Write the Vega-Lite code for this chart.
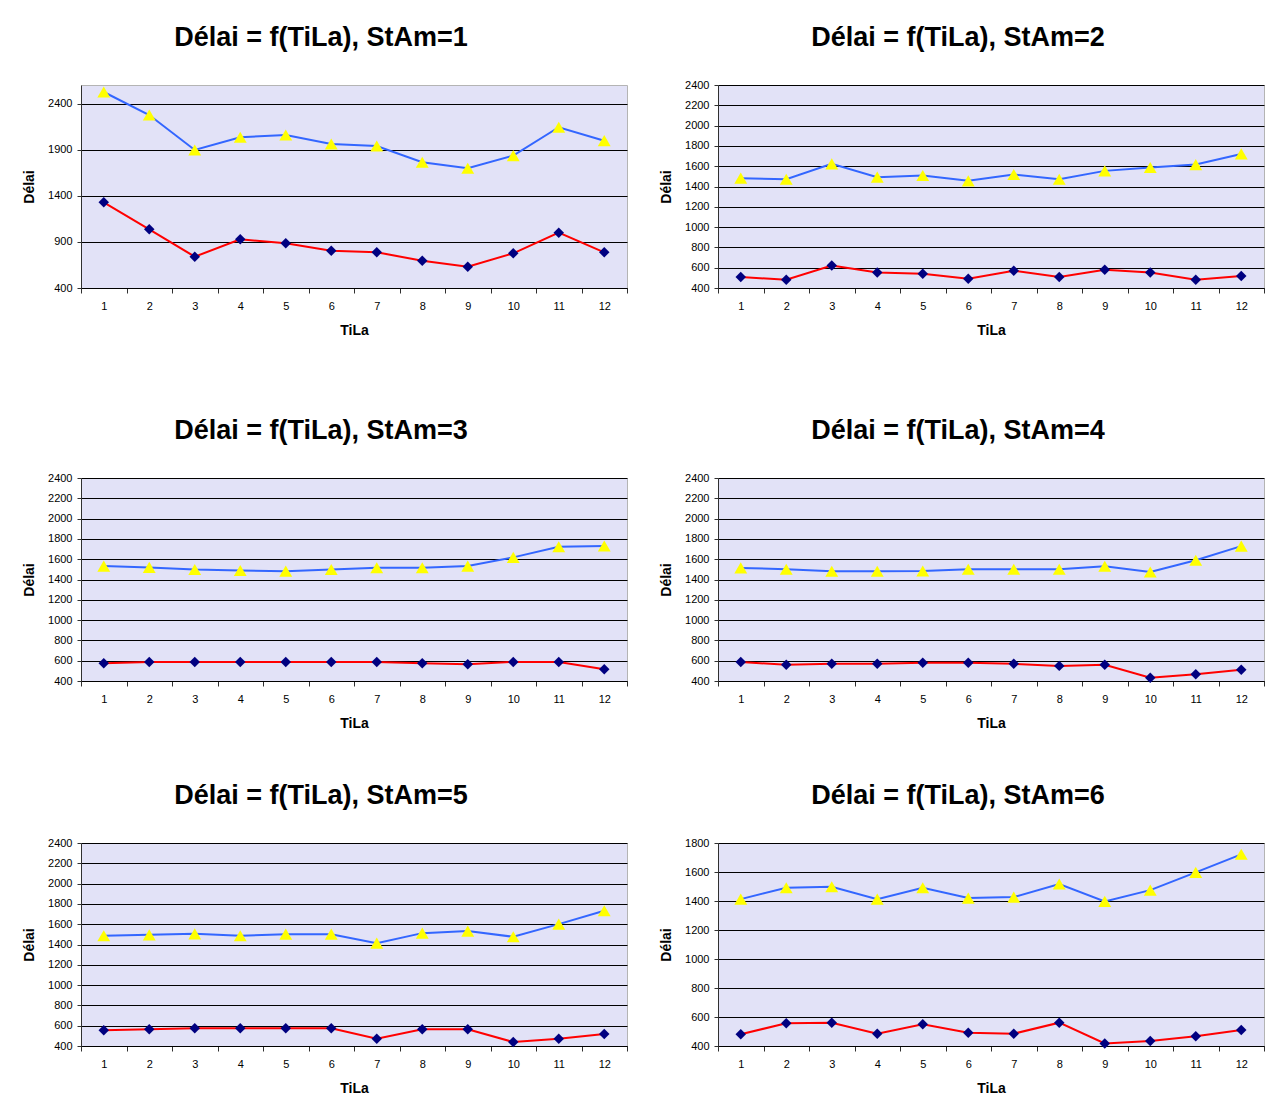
{
  "$schema": "https://vega.github.io/schema/vega-lite/v6.json",
  "padding": {"left": 22, "top": 23, "right": 0, "bottom": 0},
  "background": "white",
  "config": {
    "font": "Liberation Sans",
    "view": {"fill": "#e2e2f7", "stroke": "#b4b4b4", "strokeWidth": 1},
    "title": {"fontSize": 27, "font": "Liberation Sans", "fontWeight": "bold", "anchor": "middle", "color": "#000000", "offset": 27, "dx": -33},
    "axis": {
      "labelFont": "Liberation Sans", "labelFontSize": 11, "labelColor": "#000000",
      "titleFont": "Liberation Sans", "titleFontSize": 14, "titleFontWeight": "bold", "titleColor": "#000000",
      "domainColor": "#303030", "tickColor": "#303030", "gridColor": "#000000", "gridOpacity": 1, "gridWidth": 1,
      "labelFlush": false, "labelOverlap": false, "labelBound": false
    },
    "concat": {"spacing": 31}
  },
  "datasets": {
    "d": [
      {"StAm":1,"TiLa":1,"serie":"haut","delai":2530},{"StAm":1,"TiLa":2,"serie":"haut","delai":2280},{"StAm":1,"TiLa":3,"serie":"haut","delai":1900},{"StAm":1,"TiLa":4,"serie":"haut","delai":2038},{"StAm":1,"TiLa":5,"serie":"haut","delai":2063},{"StAm":1,"TiLa":6,"serie":"haut","delai":1965},{"StAm":1,"TiLa":7,"serie":"haut","delai":1943},{"StAm":1,"TiLa":8,"serie":"haut","delai":1766},{"StAm":1,"TiLa":9,"serie":"haut","delai":1701},{"StAm":1,"TiLa":10,"serie":"haut","delai":1838},{"StAm":1,"TiLa":11,"serie":"haut","delai":2147},{"StAm":1,"TiLa":12,"serie":"haut","delai":2001},
      {"StAm":1,"TiLa":1,"serie":"bas","delai":1331},{"StAm":1,"TiLa":2,"serie":"bas","delai":1038},{"StAm":1,"TiLa":3,"serie":"bas","delai":740},{"StAm":1,"TiLa":4,"serie":"bas","delai":929},{"StAm":1,"TiLa":5,"serie":"bas","delai":886},{"StAm":1,"TiLa":6,"serie":"bas","delai":806},{"StAm":1,"TiLa":7,"serie":"bas","delai":788},{"StAm":1,"TiLa":8,"serie":"bas","delai":697},{"StAm":1,"TiLa":9,"serie":"bas","delai":632},{"StAm":1,"TiLa":10,"serie":"bas","delai":777},{"StAm":1,"TiLa":11,"serie":"bas","delai":1001},{"StAm":1,"TiLa":12,"serie":"bas","delai":788},
      {"StAm":2,"TiLa":1,"serie":"haut","delai":1482},{"StAm":2,"TiLa":2,"serie":"haut","delai":1472},{"StAm":2,"TiLa":3,"serie":"haut","delai":1623},{"StAm":2,"TiLa":4,"serie":"haut","delai":1492},{"StAm":2,"TiLa":5,"serie":"haut","delai":1508},{"StAm":2,"TiLa":6,"serie":"haut","delai":1456},{"StAm":2,"TiLa":7,"serie":"haut","delai":1518},{"StAm":2,"TiLa":8,"serie":"haut","delai":1472},{"StAm":2,"TiLa":9,"serie":"haut","delai":1554},{"StAm":2,"TiLa":10,"serie":"haut","delai":1587},{"StAm":2,"TiLa":11,"serie":"haut","delai":1616},{"StAm":2,"TiLa":12,"serie":"haut","delai":1721},
      {"StAm":2,"TiLa":1,"serie":"bas","delai":508},{"StAm":2,"TiLa":2,"serie":"bas","delai":482},{"StAm":2,"TiLa":3,"serie":"bas","delai":622},{"StAm":2,"TiLa":4,"serie":"bas","delai":553},{"StAm":2,"TiLa":5,"serie":"bas","delai":541},{"StAm":2,"TiLa":6,"serie":"bas","delai":491},{"StAm":2,"TiLa":7,"serie":"bas","delai":570},{"StAm":2,"TiLa":8,"serie":"bas","delai":508},{"StAm":2,"TiLa":9,"serie":"bas","delai":580},{"StAm":2,"TiLa":10,"serie":"bas","delai":553},{"StAm":2,"TiLa":11,"serie":"bas","delai":482},{"StAm":2,"TiLa":12,"serie":"bas","delai":518},
      {"StAm":3,"TiLa":1,"serie":"haut","delai":1532},{"StAm":3,"TiLa":2,"serie":"haut","delai":1519},{"StAm":3,"TiLa":3,"serie":"haut","delai":1499},{"StAm":3,"TiLa":4,"serie":"haut","delai":1489},{"StAm":3,"TiLa":5,"serie":"haut","delai":1482},{"StAm":3,"TiLa":6,"serie":"haut","delai":1499},{"StAm":3,"TiLa":7,"serie":"haut","delai":1516},{"StAm":3,"TiLa":8,"serie":"haut","delai":1516},{"StAm":3,"TiLa":9,"serie":"haut","delai":1532},{"StAm":3,"TiLa":10,"serie":"haut","delai":1618},{"StAm":3,"TiLa":11,"serie":"haut","delai":1723},{"StAm":3,"TiLa":12,"serie":"haut","delai":1730},
      {"StAm":3,"TiLa":1,"serie":"bas","delai":575},{"StAm":3,"TiLa":2,"serie":"bas","delai":588},{"StAm":3,"TiLa":3,"serie":"bas","delai":588},{"StAm":3,"TiLa":4,"serie":"bas","delai":588},{"StAm":3,"TiLa":5,"serie":"bas","delai":588},{"StAm":3,"TiLa":6,"serie":"bas","delai":588},{"StAm":3,"TiLa":7,"serie":"bas","delai":588},{"StAm":3,"TiLa":8,"serie":"bas","delai":575},{"StAm":3,"TiLa":9,"serie":"bas","delai":565},{"StAm":3,"TiLa":10,"serie":"bas","delai":588},{"StAm":3,"TiLa":11,"serie":"bas","delai":588},{"StAm":3,"TiLa":12,"serie":"bas","delai":516},
      {"StAm":4,"TiLa":1,"serie":"haut","delai":1514},{"StAm":4,"TiLa":2,"serie":"haut","delai":1501},{"StAm":4,"TiLa":3,"serie":"haut","delai":1481},{"StAm":4,"TiLa":4,"serie":"haut","delai":1481},{"StAm":4,"TiLa":5,"serie":"haut","delai":1484},{"StAm":4,"TiLa":6,"serie":"haut","delai":1501},{"StAm":4,"TiLa":7,"serie":"haut","delai":1501},{"StAm":4,"TiLa":8,"serie":"haut","delai":1501},{"StAm":4,"TiLa":9,"serie":"haut","delai":1531},{"StAm":4,"TiLa":10,"serie":"haut","delai":1474},{"StAm":4,"TiLa":11,"serie":"haut","delai":1590},{"StAm":4,"TiLa":12,"serie":"haut","delai":1729},
      {"StAm":4,"TiLa":1,"serie":"bas","delai":588},{"StAm":4,"TiLa":2,"serie":"bas","delai":559},{"StAm":4,"TiLa":3,"serie":"bas","delai":569},{"StAm":4,"TiLa":4,"serie":"bas","delai":569},{"StAm":4,"TiLa":5,"serie":"bas","delai":579},{"StAm":4,"TiLa":6,"serie":"bas","delai":579},{"StAm":4,"TiLa":7,"serie":"bas","delai":569},{"StAm":4,"TiLa":8,"serie":"bas","delai":549},{"StAm":4,"TiLa":9,"serie":"bas","delai":559},{"StAm":4,"TiLa":10,"serie":"bas","delai":433},{"StAm":4,"TiLa":11,"serie":"bas","delai":466},{"StAm":4,"TiLa":12,"serie":"bas","delai":512},
      {"StAm":5,"TiLa":1,"serie":"haut","delai":1486},{"StAm":5,"TiLa":2,"serie":"haut","delai":1495},{"StAm":5,"TiLa":3,"serie":"haut","delai":1505},{"StAm":5,"TiLa":4,"serie":"haut","delai":1486},{"StAm":5,"TiLa":5,"serie":"haut","delai":1502},{"StAm":5,"TiLa":6,"serie":"haut","delai":1502},{"StAm":5,"TiLa":7,"serie":"haut","delai":1413},{"StAm":5,"TiLa":8,"serie":"haut","delai":1512},{"StAm":5,"TiLa":9,"serie":"haut","delai":1532},{"StAm":5,"TiLa":10,"serie":"haut","delai":1476},{"StAm":5,"TiLa":11,"serie":"haut","delai":1601},{"StAm":5,"TiLa":12,"serie":"haut","delai":1732},
      {"StAm":5,"TiLa":1,"serie":"bas","delai":555},{"StAm":5,"TiLa":2,"serie":"bas","delai":564},{"StAm":5,"TiLa":3,"serie":"bas","delai":574},{"StAm":5,"TiLa":4,"serie":"bas","delai":574},{"StAm":5,"TiLa":5,"serie":"bas","delai":574},{"StAm":5,"TiLa":6,"serie":"bas","delai":574},{"StAm":5,"TiLa":7,"serie":"bas","delai":472},{"StAm":5,"TiLa":8,"serie":"bas","delai":564},{"StAm":5,"TiLa":9,"serie":"bas","delai":564},{"StAm":5,"TiLa":10,"serie":"bas","delai":439},{"StAm":5,"TiLa":11,"serie":"bas","delai":472},{"StAm":5,"TiLa":12,"serie":"bas","delai":518},
      {"StAm":6,"TiLa":1,"serie":"haut","delai":1413},{"StAm":6,"TiLa":2,"serie":"haut","delai":1491},{"StAm":6,"TiLa":3,"serie":"haut","delai":1498},{"StAm":6,"TiLa":4,"serie":"haut","delai":1413},{"StAm":6,"TiLa":5,"serie":"haut","delai":1491},{"StAm":6,"TiLa":6,"serie":"haut","delai":1420},{"StAm":6,"TiLa":7,"serie":"haut","delai":1427},{"StAm":6,"TiLa":8,"serie":"haut","delai":1517},{"StAm":6,"TiLa":9,"serie":"haut","delai":1397},{"StAm":6,"TiLa":10,"serie":"haut","delai":1475},{"StAm":6,"TiLa":11,"serie":"haut","delai":1597},{"StAm":6,"TiLa":12,"serie":"haut","delai":1722},
      {"StAm":6,"TiLa":1,"serie":"bas","delai":481},{"StAm":6,"TiLa":2,"serie":"bas","delai":557},{"StAm":6,"TiLa":3,"serie":"bas","delai":561},{"StAm":6,"TiLa":4,"serie":"bas","delai":485},{"StAm":6,"TiLa":5,"serie":"bas","delai":550},{"StAm":6,"TiLa":6,"serie":"bas","delai":492},{"StAm":6,"TiLa":7,"serie":"bas","delai":485},{"StAm":6,"TiLa":8,"serie":"bas","delai":561},{"StAm":6,"TiLa":9,"serie":"bas","delai":418},{"StAm":6,"TiLa":10,"serie":"bas","delai":435},{"StAm":6,"TiLa":11,"serie":"bas","delai":467},{"StAm":6,"TiLa":12,"serie":"bas","delai":511}
    ]
  },
  "vconcat": [
    {
      "hconcat": [
        {
          "width": 546, "height": 203,
          "title": {"text": "Délai = f(TiLa), StAm=1", "offset": 33},
          "data": {"name": "d"},
          "transform": [{"filter": "datum.StAm == 1"}],
          "encoding": {
            "x": {"field": "TiLa", "type": "quantitative", "scale": {"domain": [0.5, 12.5], "nice": false, "zero": false},
              "axis": {"values": [0.5,1,1.5,2,2.5,3,3.5,4,4.5,5,5.5,6,6.5,7,7.5,8,8.5,9,9.5,10,10.5,11,11.5,12,12.5], "labelExpr": "datum.value % 1 == 0 ? format(datum.value, 'd') : ''", "tickSize": 5, "tickOpacity": {"condition": {"test": "datum.value % 1 == 0", "value": 0}, "value": 1}, "labelPadding": 7, "grid": false, "title": "TiLa", "titlePadding": 12, "domainColor": "#000000"}},
            "y": {"field": "delai", "type": "quantitative", "scale": {"domain": [400, 2606], "nice": false, "zero": false},
              "axis": {"values": [400, 900, 1400, 1900, 2400], "format": "d", "title": "Délai", "tickSize": 4, "labelPadding": 5, "titlePadding": 11, "grid": true}}
          },
          "layer": [
            {"mark": {"type": "line", "strokeWidth": 2}, "encoding": {"stroke": {"field": "serie", "type": "nominal", "scale": {"domain": ["haut", "bas"], "range": ["#3366ff", "#ff0000"]}, "legend": null}}},
            {"mark": {"type": "point", "filled": true, "opacity": 1}, "encoding": {
              "shape": {"field": "serie", "type": "nominal", "scale": {"domain": ["haut", "bas"], "range": ["triangle-up", "diamond"]}, "legend": null},
              "fill": {"field": "serie", "type": "nominal", "scale": {"domain": ["haut", "bas"], "range": ["#ffff00", "#000080"]}, "legend": null},
              "size": {"field": "serie", "type": "nominal", "scale": {"domain": ["haut", "bas"], "range": [165, 110]}, "legend": null}}}
          ]
        },
        {
          "width": 546, "height": 203,
          "title": {"text": "Délai = f(TiLa), StAm=2"},
          "data": {"name": "d"},
          "transform": [{"filter": "datum.StAm == 2"}],
          "encoding": {
            "x": {"field": "TiLa", "type": "quantitative", "scale": {"domain": [0.5, 12.5], "nice": false, "zero": false},
              "axis": {"values": [0.5,1,1.5,2,2.5,3,3.5,4,4.5,5,5.5,6,6.5,7,7.5,8,8.5,9,9.5,10,10.5,11,11.5,12,12.5], "labelExpr": "datum.value % 1 == 0 ? format(datum.value, 'd') : ''", "tickSize": 5, "tickOpacity": {"condition": {"test": "datum.value % 1 == 0", "value": 0}, "value": 1}, "labelPadding": 7, "grid": false, "title": "TiLa", "titlePadding": 12, "domainColor": "#000000"}},
            "y": {"field": "delai", "type": "quantitative", "scale": {"domain": [400, 2400], "nice": false, "zero": false},
              "axis": {"values": [400, 600, 800, 1000, 1200, 1400, 1600, 1800, 2000, 2200, 2400], "format": "d", "title": "Délai", "tickSize": 4, "labelPadding": 5, "titlePadding": 11, "grid": true}}
          },
          "layer": [
            {"mark": {"type": "line", "strokeWidth": 2}, "encoding": {"stroke": {"field": "serie", "type": "nominal", "scale": {"domain": ["haut", "bas"], "range": ["#3366ff", "#ff0000"]}, "legend": null}}},
            {"mark": {"type": "point", "filled": true, "opacity": 1}, "encoding": {
              "shape": {"field": "serie", "type": "nominal", "scale": {"domain": ["haut", "bas"], "range": ["triangle-up", "diamond"]}, "legend": null},
              "fill": {"field": "serie", "type": "nominal", "scale": {"domain": ["haut", "bas"], "range": ["#ffff00", "#000080"]}, "legend": null},
              "size": {"field": "serie", "type": "nominal", "scale": {"domain": ["haut", "bas"], "range": [165, 110]}, "legend": null}}}
          ]
        }
      ]
    },
    {
      "spacing": 50,
      "vconcat": [
        {
          "hconcat": [
            {
              "width": 546, "height": 203,
              "title": {"text": "Délai = f(TiLa), StAm=3"},
              "data": {"name": "d"},
              "transform": [{"filter": "datum.StAm == 3"}],
              "encoding": {
                "x": {"field": "TiLa", "type": "quantitative", "scale": {"domain": [0.5, 12.5], "nice": false, "zero": false},
                  "axis": {"values": [0.5,1,1.5,2,2.5,3,3.5,4,4.5,5,5.5,6,6.5,7,7.5,8,8.5,9,9.5,10,10.5,11,11.5,12,12.5], "labelExpr": "datum.value % 1 == 0 ? format(datum.value, 'd') : ''", "tickSize": 5, "tickOpacity": {"condition": {"test": "datum.value % 1 == 0", "value": 0}, "value": 1}, "labelPadding": 7, "grid": false, "title": "TiLa", "titlePadding": 12, "domainColor": "#000000"}},
                "y": {"field": "delai", "type": "quantitative", "scale": {"domain": [400, 2400], "nice": false, "zero": false},
                  "axis": {"values": [400, 600, 800, 1000, 1200, 1400, 1600, 1800, 2000, 2200, 2400], "format": "d", "title": "Délai", "tickSize": 4, "labelPadding": 5, "titlePadding": 11, "grid": true}}
              },
              "layer": [
                {"mark": {"type": "line", "strokeWidth": 2}, "encoding": {"stroke": {"field": "serie", "type": "nominal", "scale": {"domain": ["haut", "bas"], "range": ["#3366ff", "#ff0000"]}, "legend": null}}},
                {"mark": {"type": "point", "filled": true, "opacity": 1}, "encoding": {
                  "shape": {"field": "serie", "type": "nominal", "scale": {"domain": ["haut", "bas"], "range": ["triangle-up", "diamond"]}, "legend": null},
                  "fill": {"field": "serie", "type": "nominal", "scale": {"domain": ["haut", "bas"], "range": ["#ffff00", "#000080"]}, "legend": null},
                  "size": {"field": "serie", "type": "nominal", "scale": {"domain": ["haut", "bas"], "range": [165, 110]}, "legend": null}}}
              ]
            },
            {
              "width": 546, "height": 203,
              "title": {"text": "Délai = f(TiLa), StAm=4"},
              "data": {"name": "d"},
              "transform": [{"filter": "datum.StAm == 4"}],
              "encoding": {
                "x": {"field": "TiLa", "type": "quantitative", "scale": {"domain": [0.5, 12.5], "nice": false, "zero": false},
                  "axis": {"values": [0.5,1,1.5,2,2.5,3,3.5,4,4.5,5,5.5,6,6.5,7,7.5,8,8.5,9,9.5,10,10.5,11,11.5,12,12.5], "labelExpr": "datum.value % 1 == 0 ? format(datum.value, 'd') : ''", "tickSize": 5, "tickOpacity": {"condition": {"test": "datum.value % 1 == 0", "value": 0}, "value": 1}, "labelPadding": 7, "grid": false, "title": "TiLa", "titlePadding": 12, "domainColor": "#000000"}},
                "y": {"field": "delai", "type": "quantitative", "scale": {"domain": [400, 2400], "nice": false, "zero": false},
                  "axis": {"values": [400, 600, 800, 1000, 1200, 1400, 1600, 1800, 2000, 2200, 2400], "format": "d", "title": "Délai", "tickSize": 4, "labelPadding": 5, "titlePadding": 11, "grid": true}}
              },
              "layer": [
                {"mark": {"type": "line", "strokeWidth": 2}, "encoding": {"stroke": {"field": "serie", "type": "nominal", "scale": {"domain": ["haut", "bas"], "range": ["#3366ff", "#ff0000"]}, "legend": null}}},
                {"mark": {"type": "point", "filled": true, "opacity": 1}, "encoding": {
                  "shape": {"field": "serie", "type": "nominal", "scale": {"domain": ["haut", "bas"], "range": ["triangle-up", "diamond"]}, "legend": null},
                  "fill": {"field": "serie", "type": "nominal", "scale": {"domain": ["haut", "bas"], "range": ["#ffff00", "#000080"]}, "legend": null},
                  "size": {"field": "serie", "type": "nominal", "scale": {"domain": ["haut", "bas"], "range": [165, 110]}, "legend": null}}}
              ]
            }
          ]
        },
        {
          "hconcat": [
            {
              "width": 546, "height": 203,
              "title": {"text": "Délai = f(TiLa), StAm=5"},
              "data": {"name": "d"},
              "transform": [{"filter": "datum.StAm == 5"}],
              "encoding": {
                "x": {"field": "TiLa", "type": "quantitative", "scale": {"domain": [0.5, 12.5], "nice": false, "zero": false},
                  "axis": {"values": [0.5,1,1.5,2,2.5,3,3.5,4,4.5,5,5.5,6,6.5,7,7.5,8,8.5,9,9.5,10,10.5,11,11.5,12,12.5], "labelExpr": "datum.value % 1 == 0 ? format(datum.value, 'd') : ''", "tickSize": 5, "tickOpacity": {"condition": {"test": "datum.value % 1 == 0", "value": 0}, "value": 1}, "labelPadding": 7, "grid": false, "title": "TiLa", "titlePadding": 12, "domainColor": "#000000"}},
                "y": {"field": "delai", "type": "quantitative", "scale": {"domain": [400, 2400], "nice": false, "zero": false},
                  "axis": {"values": [400, 600, 800, 1000, 1200, 1400, 1600, 1800, 2000, 2200, 2400], "format": "d", "title": "Délai", "tickSize": 4, "labelPadding": 5, "titlePadding": 11, "grid": true}}
              },
              "layer": [
                {"mark": {"type": "line", "strokeWidth": 2}, "encoding": {"stroke": {"field": "serie", "type": "nominal", "scale": {"domain": ["haut", "bas"], "range": ["#3366ff", "#ff0000"]}, "legend": null}}},
                {"mark": {"type": "point", "filled": true, "opacity": 1}, "encoding": {
                  "shape": {"field": "serie", "type": "nominal", "scale": {"domain": ["haut", "bas"], "range": ["triangle-up", "diamond"]}, "legend": null},
                  "fill": {"field": "serie", "type": "nominal", "scale": {"domain": ["haut", "bas"], "range": ["#ffff00", "#000080"]}, "legend": null},
                  "size": {"field": "serie", "type": "nominal", "scale": {"domain": ["haut", "bas"], "range": [165, 110]}, "legend": null}}}
              ]
            },
            {
              "width": 546, "height": 203,
              "title": {"text": "Délai = f(TiLa), StAm=6"},
              "data": {"name": "d"},
              "transform": [{"filter": "datum.StAm == 6"}],
              "encoding": {
                "x": {"field": "TiLa", "type": "quantitative", "scale": {"domain": [0.5, 12.5], "nice": false, "zero": false},
                  "axis": {"values": [0.5,1,1.5,2,2.5,3,3.5,4,4.5,5,5.5,6,6.5,7,7.5,8,8.5,9,9.5,10,10.5,11,11.5,12,12.5], "labelExpr": "datum.value % 1 == 0 ? format(datum.value, 'd') : ''", "tickSize": 5, "tickOpacity": {"condition": {"test": "datum.value % 1 == 0", "value": 0}, "value": 1}, "labelPadding": 7, "grid": false, "title": "TiLa", "titlePadding": 12, "domainColor": "#000000"}},
                "y": {"field": "delai", "type": "quantitative", "scale": {"domain": [400, 1800], "nice": false, "zero": false},
                  "axis": {"values": [400, 600, 800, 1000, 1200, 1400, 1600, 1800], "format": "d", "title": "Délai", "tickSize": 4, "labelPadding": 5, "titlePadding": 11, "grid": true}}
              },
              "layer": [
                {"mark": {"type": "line", "strokeWidth": 2}, "encoding": {"stroke": {"field": "serie", "type": "nominal", "scale": {"domain": ["haut", "bas"], "range": ["#3366ff", "#ff0000"]}, "legend": null}}},
                {"mark": {"type": "point", "filled": true, "opacity": 1}, "encoding": {
                  "shape": {"field": "serie", "type": "nominal", "scale": {"domain": ["haut", "bas"], "range": ["triangle-up", "diamond"]}, "legend": null},
                  "fill": {"field": "serie", "type": "nominal", "scale": {"domain": ["haut", "bas"], "range": ["#ffff00", "#000080"]}, "legend": null},
                  "size": {"field": "serie", "type": "nominal", "scale": {"domain": ["haut", "bas"], "range": [165, 110]}, "legend": null}}}
              ]
            }
          ]
        }
      ]
    }
  ],
  "spacing": 78
}
